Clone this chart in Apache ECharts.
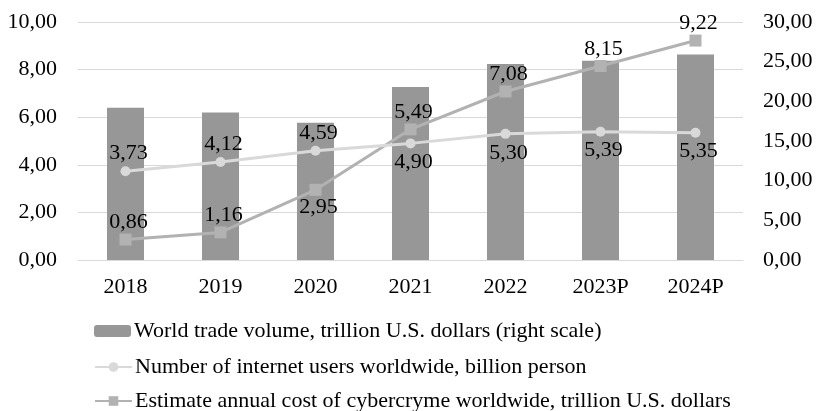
<!DOCTYPE html>
<html>
<head>
<meta charset="utf-8">
<script src="https://cdn.jsdelivr.net/npm/echarts@6/dist/echarts.min.js"></script>
<style>html,body{margin:0;padding:0;background:#fff}#c{width:818px;height:411px}</style>
</head>
<body>
<div id="c"></div>
<script>
var categories = ['2018','2019','2020','2021','2022','2023P','2024P'];
var tradeVolume = [19.2, 18.6, 17.3, 21.8, 24.7, 25.1, 25.9];
var internetUsers = [3.73, 4.12, 4.59, 4.90, 5.30, 5.39, 5.35];
var cyberCost = [0.86, 1.16, 2.95, 5.49, 7.08, 8.15, 9.22];
var internetLabelPos = ['top','top','top','bottom','bottom','bottom','bottom'];
var cyberLabelPos = ['top','top','bottom','top','top','top','top'];
var seriesNames = [
  'World trade volume, trillion U.S. dollars (right scale)',
  'Number of internet users worldwide, billion person',
  'Estimate annual cost of cybercryme worldwide, trillion U.S. dollars'
];

var FONT = '"Liberation Serif", "Times New Roman", serif';
function fmt(v){ return Number(v).toFixed(2).replace('.', ','); }
function legendFor(name, top){
  return {
    orient: 'vertical', left: 89, top: top, itemWidth: 37, itemHeight: 12, itemGap: 0,
    textStyle: {fontFamily: FONT, fontSize: 22, color: '#000', padding: [0,0,0,-2]},
    data: [name]
  };
}

var chart = echarts.init(document.getElementById('c'), null, {renderer:'canvas'});
chart.setOption({
  animation: false,
  textStyle: {fontFamily: FONT, color: '#000'},
  grid: {left: 78, right: 75, top: 22, bottom: 151, containLabel: false},
  legend: [legendFor(seriesNames[0], 315), legendFor(seriesNames[1], 351), legendFor(seriesNames[2], 385)],
  xAxis: {
    type: 'category', data: categories,
    axisLine: {show: true, lineStyle: {color: '#d9d9d9', width: 1}},
    axisTick: {show: false},
    axisLabel: {fontFamily: FONT, fontSize: 22, color: '#000', margin: 16}
  },
  yAxis: [
    {type: 'value', min: 0, max: 10, interval: 2,
     axisLine: {show: false}, axisTick: {show: false},
     splitLine: {lineStyle: {color: '#d9d9d9', width: 1}},
     axisLabel: {fontFamily: FONT, fontSize: 22, color: '#000', margin: 21, formatter: fmt}},
    {type: 'value', min: 0, max: 30, interval: 5,
     axisLine: {show: false}, axisTick: {show: false}, splitLine: {show: false},
     axisLabel: {fontFamily: FONT, fontSize: 22, color: '#000', margin: 20, formatter: fmt}}
  ],
  series: [
    {name: seriesNames[0], type: 'bar', yAxisIndex: 1, data: tradeVolume, barWidth: 37,
     itemStyle: {color: '#979797'}},
    {name: seriesNames[2], type: 'line', yAxisIndex: 0, symbol: 'rect', symbolSize: 12,
     data: cyberCost.map(function(v,i){ return {value: v, label: {position: cyberLabelPos[i]}}; }),
     lineStyle: {color: '#b2b2b2', width: 3}, itemStyle: {color: '#b2b2b2'},
     label: {show: true, fontFamily: FONT, fontSize: 22, color: '#000', distance: 0, offset: [3, 0], formatter: function(p){return fmt(p.value);}}},
    {name: seriesNames[1], type: 'line', yAxisIndex: 0, symbol: 'circle', symbolSize: 10,
     data: internetUsers.map(function(v,i){ return {value: v, label: {position: internetLabelPos[i], distance: internetLabelPos[i]==='top'?2:3}}; }),
     lineStyle: {color: '#d9d9d9', width: 3}, itemStyle: {color: '#d9d9d9'},
     label: {show: true, fontFamily: FONT, fontSize: 22, color: '#000', offset: [3, 0], formatter: function(p){return fmt(p.value);}}}
  ]
});
</script>
</body>
</html>
